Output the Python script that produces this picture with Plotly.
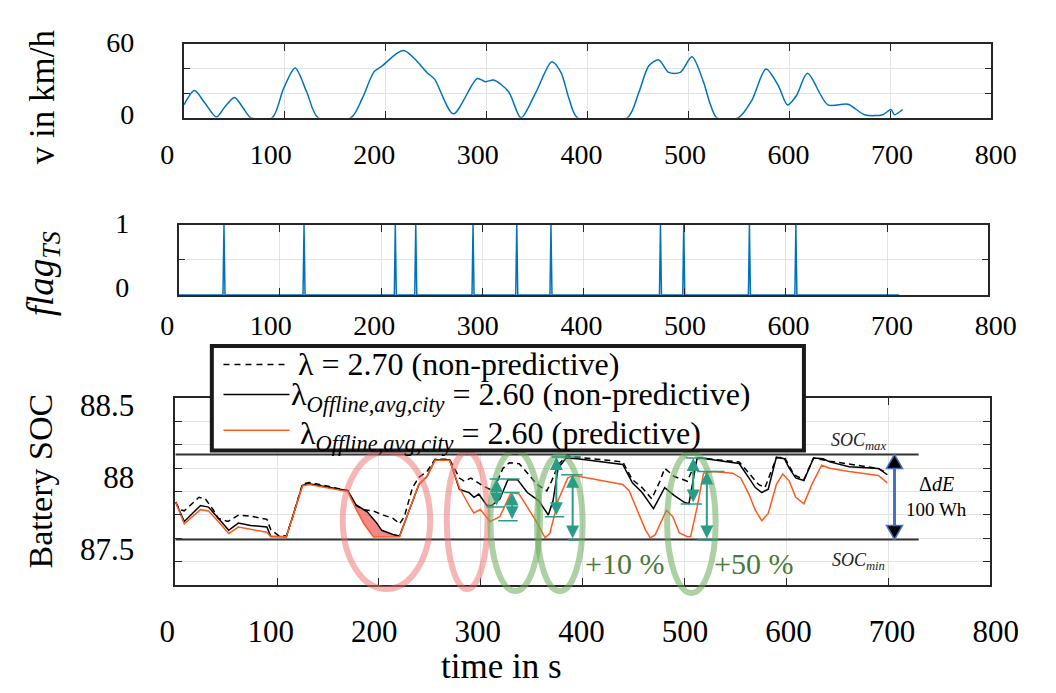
import plotly.graph_objects as go

W, H = 1056, 693
FONT = "Liberation Serif"

# ---------------- data ----------------
speed_t = [0.5, 10.6, 21.0, 32.4, 40.5, 50.3, 58.4, 66.5, 87.6, 99.0, 110.4, 121.7, 133.2, 165.7, 177.0,
           188.5, 196.5, 217.7, 242.0, 248.5, 267.1, 290.8, 298.9, 307.0, 321.7, 334.1, 348.9, 364.7,
           373.7, 381.8, 390.1, 439.4, 450.9, 460.8, 470.6, 480.5, 491.9, 503.5, 515.0, 521.5, 528.2,
           549.5, 562.7, 576.8, 589.0, 598.2, 607.0, 617.9, 638.3, 658.0, 674.4, 692.5, 700.7, 704.0, 712.2]
speed_v = [10.7, 22.2, 12.0, 0.6, 8.6, 16.6, 8.6, 0.0, 0.0, 24.0, 40.7, 21.5, 0.0, 0.0, 16.0,
           37.5, 42.3, 54.9, 36.2, 31.6, 3.2, 32.1, 29.5, 30.8, 21.5, 0.0, 20.8, 45.8,
           37.1, 15.4, 0.0, 0.0, 20.8, 42.5, 47.3, 37.1, 37.1, 49.8, 29.0, 11.4, 0.0,
           0.0, 14.1, 39.8, 26.3, 10.5, 18.1, 36.3, 10.5, 11.1, 2.5, 2.5, 6.8, 2.5, 6.8]

flag_times = [44.8, 123.9, 214.1, 234.3, 290.9, 334.1, 367.9, 476.1, 499.1, 564.0, 609.9]
flag_t_end = 712.0

dash_t = [0.3, 4.1, 8.8, 16.8, 23.2, 29.5, 37.5, 42.2, 51.8, 61.9, 74.0, 89.9, 93.7, 101.0, 109.0,
          115.3, 124.8, 131.2, 169.3, 177.3, 185.2, 194.7, 204.3, 213.8, 220.2, 224.9, 232.9, 239.2,
          247.1, 255.1, 269.4, 279.0, 283.8, 290.2, 296.5, 302.7, 312.2, 321.7, 328.0, 337.7, 347.3,
          355.2, 364.8, 369.5, 375.9, 383.8, 394.9, 439.4, 448.9, 458.4, 467.9, 475.9, 480.6, 490.1,
          502.9, 512.3, 515.5, 553.7, 563.3, 572.8, 579.1, 590.3, 598.2, 607.7, 617.3, 626.8, 642.7,
          690.4, 699.3]
dash_soc = [87.827, 87.776, 87.767, 87.816, 87.861, 87.850, 87.771, 87.715, 87.693, 87.737, 87.730,
            87.708, 87.637, 87.597, 87.592, 87.726, 87.953, 87.964, 87.908, 87.804, 87.774, 87.765,
            87.737, 87.715, 87.677, 87.726, 87.928, 87.999, 88.039, 88.124, 88.124, 87.994, 87.972,
            87.994, 87.968, 87.938, 87.905, 88.061, 88.100, 88.094, 88.016, 87.950, 87.905, 87.972,
            88.084, 88.146, 88.139, 88.106, 87.983, 87.928, 87.850, 87.972, 88.061, 88.005, 87.972,
            88.128, 88.133, 88.106, 88.028, 87.950, 87.928, 88.133, 88.139, 88.016, 87.983, 88.133,
            88.111, 88.061, 88.028]

black_t = [0.3, 8.8, 24.7, 32.6, 42.2, 52.4, 61.9, 74.0, 89.9, 93.7, 109.0, 115.3, 124.8, 131.2,
           169.3, 177.3, 188.4, 197.9, 202.7, 213.8, 220.2, 229.7, 239.2, 247.1, 255.1, 269.4, 279.0,
           288.5, 293.3, 298.0, 306.0, 311.0, 318.7, 326.6, 336.1, 345.7, 356.8, 366.3, 371.0, 375.9,
           383.8, 394.9, 439.4, 448.9, 458.4, 469.6, 475.9, 480.6, 490.1, 499.6, 504.4, 512.3, 515.5,
           553.7, 563.3, 569.6, 576.0, 582.3, 590.3, 598.2, 603.0, 609.3, 617.3, 626.8, 636.3, 642.7,
           661.8, 690.4, 699.3]
black_soc = [87.827, 87.693, 87.804, 87.793, 87.715, 87.632, 87.682, 87.665, 87.655, 87.590, 87.587,
             87.726, 87.944, 87.955, 87.906, 87.810, 87.760, 87.682, 87.632, 87.603, 87.592, 87.771,
             87.950, 88.005, 88.121, 88.121, 87.915, 87.893, 87.861, 87.883, 87.804, 87.805, 87.849,
             87.983, 87.983, 87.894, 87.838, 87.738, 87.838, 88.061, 88.133, 88.128, 88.088, 87.961,
             87.894, 87.782, 87.861, 87.928, 87.872, 87.827, 87.816, 88.128, 88.133, 88.095, 87.995,
             87.928, 87.894, 87.917, 88.139, 88.128, 88.061, 87.995, 87.977, 88.133, 88.128, 88.106,
             88.072, 88.061, 88.017]

orange_t = [0.3, 8.8, 24.7, 32.6, 42.2, 52.4, 61.9, 74.0, 89.9, 93.7, 109.0, 115.3, 124.8, 131.2,
            169.3, 177.3, 185.2, 194.7, 220.2, 229.7, 239.2, 247.1, 255.1, 269.4, 279.0, 288.5, 293.2,
            299.6, 309.1, 318.7, 329.8, 337.7, 347.3, 353.6, 363.2, 367.9, 375.9, 385.4, 391.8, 439.4,
            445.7, 452.1, 461.6, 466.4, 471.2, 482.3, 488.6, 495.0, 502.9, 506.1, 512.5, 518.8, 528.3,
            547.4, 555.3, 563.3, 569.6, 576.0, 582.3, 590.3, 596.6, 603.0, 609.3, 617.3, 625.2, 634.7,
            642.7, 661.8, 674.5, 690.4, 699.3]
orange_soc = [87.827, 87.677, 87.775, 87.766, 87.693, 87.610, 87.654, 87.641, 87.619, 87.587, 87.587,
              87.726, 87.938, 87.950, 87.900, 87.782, 87.677, 87.585, 87.587, 87.771, 87.950, 88.005,
              88.117, 88.117, 87.927, 87.804, 87.752, 87.776, 87.692, 87.726, 87.894, 87.883, 87.771,
              87.704, 87.580, 87.613, 87.838, 87.995, 88.012, 87.950, 87.906, 87.794, 87.637, 87.580,
              87.600, 87.771, 87.726, 87.614, 87.587, 87.590, 87.794, 88.028, 88.039, 88.028, 87.995,
              87.883, 87.771, 87.699, 87.749, 87.950, 88.022, 87.973, 87.861, 87.816, 87.950, 88.084,
              88.062, 88.039, 88.028, 88.012, 87.961]

soc_max, soc_min = 88.158, 87.569
soc_line_end = 730.0
loss_window = (177.3, 220.2)   # red shaded area between black and orange curves

series_names = ["λ = 2.70 (non-predictive)",
                "λ<sub><i>Offline,avg,city</i></sub> = 2.60 (non-predictive)",
                "λ<sub><i>Offline,avg,city</i></sub> = 2.60 (predictive)"]

x_ticks = [0, 100, 200, 300, 400, 500, 600, 700, 800]

# annotation geometry (data units of the SOC panel)
ellipses = [(164.4, 250.3, 87.225, 88.178, "red"), (266.6, 306.6, 87.225, 88.178, "red"),
            (309.4, 358.1, 87.211, 88.185, "green"), (355.2, 400.0, 87.211, 88.151, "green"),
            (483.0, 530.6, 87.198, 88.171, "green")]
gain_arrows = [(315.4, 87.988, 87.793), (330.7, 87.894, 87.699), (374.2, 88.140, 87.726),
               (390.2, 88.017, 87.565), (508.6, 88.133, 87.815), (522.0, 88.039, 87.565)]
gain_caps = [(308.6, 338.1, 87.988), (305.6, 323.7, 87.793), (322.8, 338.1, 87.894), (317.1, 336.2, 87.699),
             (369.5, 398.1, 88.140), (362.8, 381.9, 87.726), (379.0, 400.0, 88.017), (385.7, 398.1, 87.565),
             (501.2, 522.2, 88.133), (496.3, 517.3, 87.815), (512.5, 539.2, 88.039), (512.5, 531.6, 87.565)]
span_arrow_t = 706.3

# ---------------- layout helpers ----------------
def fx(px):
    return px / W


def fy(py):
    return 1 - py / H


TOP_X, TOP_Y = (181.0, 1013.0), (35.5, 111.3)
MID_X, MID_Y = (175.8, 1009.9), (222.0, 294.3)
BOT_X, BOT_Y = (172.4, 1011.6), (400.7, 594.0)
LAB_X = (164.0, 1017.5)
TOP_LY, MID_LY = (28.0, 111.3), (212.0, 294.3)

SOC_RANGE = [87.252, 88.549]


def xdom(p):
    return [fx(p[0]), fx(p[1])]


def ydom(p):
    return [fy(p[1]), fy(p[0])]


def soc_paper(v):
    b, t = fy(BOT_Y[1]), fy(BOT_Y[0])
    return b + (v - SOC_RANGE[0]) / (SOC_RANGE[1] - SOC_RANGE[0]) * (t - b)


AX = "#262626"
BLUE = "#0072BD"
ORANGE = "#FF5A1E"
TEAL = "#2A9D86"
RED_E = "rgba(240,110,110,0.5)"
GREEN_E = "rgba(105,170,90,0.55)"

fig = go.Figure()

# speed
fig.add_trace(go.Scatter(x=speed_t, y=speed_v, mode="lines",
                         line=dict(color=BLUE, width=1.5, shape="spline", smoothing=0.8),
                         xaxis="x", yaxis="y", showlegend=False))

# flag
flag_x, flag_y = [0.0], [0.0]
for s in flag_times:
    flag_x += [s - 1.0, s, s + 1.0]
    flag_y += [0, 1, 0]
flag_x.append(flag_t_end)
flag_y.append(0)
fig.add_trace(go.Scatter(x=flag_x, y=flag_y, mode="lines", line=dict(color=BLUE, width=1.5),
                         xaxis="x2", yaxis="y2", showlegend=False))

# red shaded loss area
poly_t = [t for t in black_t if loss_window[0] <= t <= loss_window[1]]
poly_s = [s for t, s in zip(black_t, black_soc) if loss_window[0] <= t <= loss_window[1]]
o_pts = [(t, s) for t, s in zip(orange_t, orange_soc) if loss_window[0] <= t <= loss_window[1]][::-1]
poly_t += [p[0] for p in o_pts]
poly_s += [p[1] for p in o_pts]
fig.add_trace(go.Scatter(x=poly_t, y=poly_s, fill="toself", fillcolor="rgba(236,85,85,0.7)",
                         mode="lines", line=dict(width=0), xaxis="x3", yaxis="y3", showlegend=False,
                         hoverinfo="skip"))

# SOC traces
fig.add_trace(go.Scatter(x=dash_t, y=dash_soc, mode="lines", name=series_names[0], showlegend=False,
                         line=dict(color="black", width=1.5, dash="6px,4px"), xaxis="x3", yaxis="y3"))
fig.add_trace(go.Scatter(x=black_t, y=black_soc, mode="lines", name=series_names[1], showlegend=False,
                         line=dict(color="black", width=1.5), xaxis="x3", yaxis="y3"))
fig.add_trace(go.Scatter(x=orange_t, y=orange_soc, mode="lines", name=series_names[2], showlegend=False,
                         line=dict(color=ORANGE, width=1.5), xaxis="x3", yaxis="y3"))

# empty traces that carry the label axes
for i in (4, 5, 6):
    fig.add_trace(go.Scatter(x=[None], y=[None], xaxis=f"x{i}", yaxis=f"y{i}", showlegend=False,
                             hoverinfo="skip"))

frame = dict(showline=True, linecolor=AX, linewidth=1.5, mirror="ticks", ticks="inside", ticklen=7,
             tickcolor=AX, tickwidth=1.2, showgrid=True, gridcolor="#E3E3E3", gridwidth=1,
             zeroline=False, showticklabels=False)
labels_only = dict(showline=False, showgrid=False, zeroline=False, ticks="", showticklabels=True)


def lab_range(v_lo, py_lo, v_hi, py_hi, dom):
    """range of a label axis whose pixel domain is dom, so that v_lo sits at py_lo and v_hi at py_hi"""
    k = (v_hi - v_lo) / (py_lo - py_hi)
    return [v_lo - (dom[1] - py_lo) * k, v_hi + (py_hi - dom[0]) * k]


fig.update_layout(
    width=W, height=H, margin=dict(l=0, r=0, t=0, b=0),
    paper_bgcolor="white", plot_bgcolor="rgba(0,0,0,0)",
    font=dict(family=FONT, color="black"),
    showlegend=False,
    xaxis=dict(frame, domain=xdom(TOP_X), anchor="y", range=[0, 800], tick0=0, dtick=100),
    yaxis=dict(frame, domain=ydom(TOP_Y), anchor="x", range=[0, 60], tick0=0, dtick=20),
    xaxis2=dict(frame, domain=xdom(MID_X), anchor="y2", range=[0, 800], tick0=0, dtick=100),
    yaxis2=dict(frame, domain=ydom(MID_Y), anchor="x2", range=[0, 1], tick0=0, dtick=0.5),
    xaxis3=dict(frame, domain=xdom(BOT_X), anchor="y3", range=[0, 800], tick0=0, dtick=100),
    yaxis3=dict(frame, domain=ydom(BOT_Y), anchor="x3", range=SOC_RANGE, tick0=SOC_RANGE[0],
                dtick=(SOC_RANGE[1] - SOC_RANGE[0]) / 8),
    # label axes
    xaxis4=dict(labels_only, domain=xdom(LAB_X), anchor="y4", range=[0, 800], tickvals=x_ticks,
                tickfont=dict(size=28), ticklabelstandoff=17),
    yaxis4=dict(labels_only, domain=ydom(TOP_LY), anchor="x4", range=lab_range(0, 107.2, 60, 33.5, TOP_LY),
                tickvals=[0, 60], tickfont=dict(size=28), ticklabelstandoff=32),
    xaxis5=dict(labels_only, domain=xdom(LAB_X), anchor="y5", range=[0, 800], tickvals=x_ticks,
                tickfont=dict(size=28), ticklabelstandoff=11),
    yaxis5=dict(labels_only, domain=ydom(MID_LY), anchor="x5", range=lab_range(0, 286.2, 1, 220.3, MID_LY),
                tickvals=[0, 1], tickfont=dict(size=28), ticklabelstandoff=37),
    xaxis6=dict(labels_only, domain=xdom(LAB_X), anchor="y6", range=[0, 800], tickvals=x_ticks,
                tickfont=dict(size=31), ticklabelstandoff=25),
    yaxis6=dict(labels_only, domain=ydom(BOT_Y), anchor="x6", range=SOC_RANGE, tickvals=[87.5, 88, 88.5],
                ticktext=["87.5", "88", "88.5"], tickfont=dict(size=31), ticklabelstandoff=32),
)

shapes = []
# SOC limits
for s in (soc_max, soc_min):
    shapes.append(dict(type="line", xref="x3", yref="y3", x0=0, x1=soc_line_end, y0=s, y1=s,
                       line=dict(color="#333333", width=2), layer="above"))
# ellipses
for t0, t1, s0, s1, c in ellipses:
    shapes.append(dict(type="circle", xref="x3", yref="paper", x0=t0, x1=t1, y0=soc_paper(s0),
                       y1=soc_paper(s1), line=dict(color=RED_E if c == "red" else GREEN_E, width=6),
                       layer="above"))
# gain caps
for t0, t1, s in gain_caps:
    shapes.append(dict(type="line", xref="x3", yref="y3", x0=t0, x1=t1, y0=s, y1=s,
                       line=dict(color=TEAL, width=1.5), layer="above"))
# span arrow (blue shaft + black heads)
shapes.append(dict(type="line", xref="x3", yref="y3", x0=span_arrow_t, x1=span_arrow_t, y0=soc_min,
                   y1=soc_max, line=dict(color="#4472C4", width=3), layer="above"))
shapes.append(dict(type="path", xref="x3", yref="y3", xsizemode="pixel", ysizemode="pixel",
                   xanchor=span_arrow_t, yanchor=soc_max, path="M0,0 L-8,-14 L8,-14 Z",
                   fillcolor="black", line=dict(color="#4472C4", width=1.5), layer="above"))
shapes.append(dict(type="path", xref="x3", yref="y3", xsizemode="pixel", ysizemode="pixel",
                   xanchor=span_arrow_t, yanchor=soc_min, path="M0,0 L-8,14 L8,14 Z",
                   fillcolor="black", line=dict(color="#4472C4", width=1.5), layer="above"))

# legend box (drawn by hand to match the framed legend of the reference)
LEG = dict(x0=210, x1=820, y0=347, y1=455)
shapes.append(dict(type="rect", xref="paper", yref="paper", x0=fx(LEG["x0"]), x1=fx(LEG["x1"]),
                   y0=fy(LEG["y1"]), y1=fy(LEG["y0"]), fillcolor="white",
                   line=dict(color="#1a1a1a", width=4), layer="above"))
leg_rows = [(366, 222, 287, 297, "black", "6px,5px"), (397, 222, 290, 290, "black", "solid"),
            (434, 222, 290, 299, ORANGE, "solid")]
for (ry, lx0, lx1, tx, col, dash) in leg_rows:
    shapes.append(dict(type="line", xref="paper", yref="paper", x0=fx(lx0), x1=fx(lx1), y0=fy(ry), y1=fy(ry),
                       line=dict(color=col, width=1.5, dash=dash), layer="above"))
fig.update_layout(shapes=shapes)

ann = []
for (ry, lx0, lx1, tx, col, dash), name, dy in zip(leg_rows, series_names, (0, 2, 5)):
    ann.append(dict(text=name, x=fx(tx), y=fy(ry + dy), xref="paper", yref="paper", xanchor="left",
                    yanchor="middle", showarrow=False, font=dict(size=32)))
# axis titles
ann.append(dict(text="v in km/h", x=fx(35), y=fy(89), xref="paper", yref="paper", textangle=-90,
                xanchor="center", yanchor="middle", showarrow=False, font=dict(size=35)))
ann.append(dict(text="<i>flag</i><sub><i>TS</i></sub>", x=fx(36), y=fy(272), xref="paper", yref="paper",
                textangle=-90, xanchor="center", yanchor="middle", showarrow=False, font=dict(size=37)))
ann.append(dict(text="Battery SOC", x=fx(34), y=fy(487), xref="paper", yref="paper", textangle=-90,
                xanchor="center", yanchor="middle", showarrow=False, font=dict(size=34)))
ann.append(dict(text="time in s", x=fx(508), y=fy(678), xref="paper", yref="paper",
                xanchor="center", yanchor="middle", showarrow=False, font=dict(size=35)))
# SOC labels
ann.append(dict(text="<i>SOC<sub>max</sub></i>", x=670.7, y=88.245, xref="x3", yref="y3", showarrow=False,
                xanchor="center", yanchor="middle", font=dict(size=18, color="#222")))
ann.append(dict(text="<i>SOC<sub>min</sub></i>", x=670.7, y=87.419, xref="x3", yref="y3", showarrow=False,
                xanchor="center", yanchor="middle", font=dict(size=18, color="#222")))
ann.append(dict(text="Δ<i>dE</i>", x=748, y=87.95, xref="x3", yref="y3", showarrow=False,
                xanchor="center", yanchor="middle", font=dict(size=20)))
ann.append(dict(text="100 Wh", x=748, y=87.775, xref="x3", yref="y3", showarrow=False,
                xanchor="center", yanchor="middle", font=dict(size=19)))
ann.append(dict(text="+10 %", x=441.2, y=87.40, xref="x3", yref="y3", showarrow=False,
                xanchor="center", yanchor="middle", font=dict(size=30, color="#4A7A3A")))
ann.append(dict(text="+50 %", x=568.0, y=87.40, xref="x3", yref="y3", showarrow=False,
                xanchor="center", yanchor="middle", font=dict(size=30, color="#4A7A3A")))
# gain arrows
for t, s_top, s_bot in gain_arrows:
    ann.append(dict(text="", x=t, y=s_top, ax=t, ay=s_bot, xref="x3", yref="y3", axref="x3", ayref="y3",
                    showarrow=True, arrowside="start+end", arrowhead=2, arrowsize=1.3, arrowwidth=2,
                    arrowcolor=TEAL, standoff=0, startstandoff=0))
fig.update_layout(annotations=ann)

fig.write_html("out.html", post_script="document.body.style.margin='0px';")
